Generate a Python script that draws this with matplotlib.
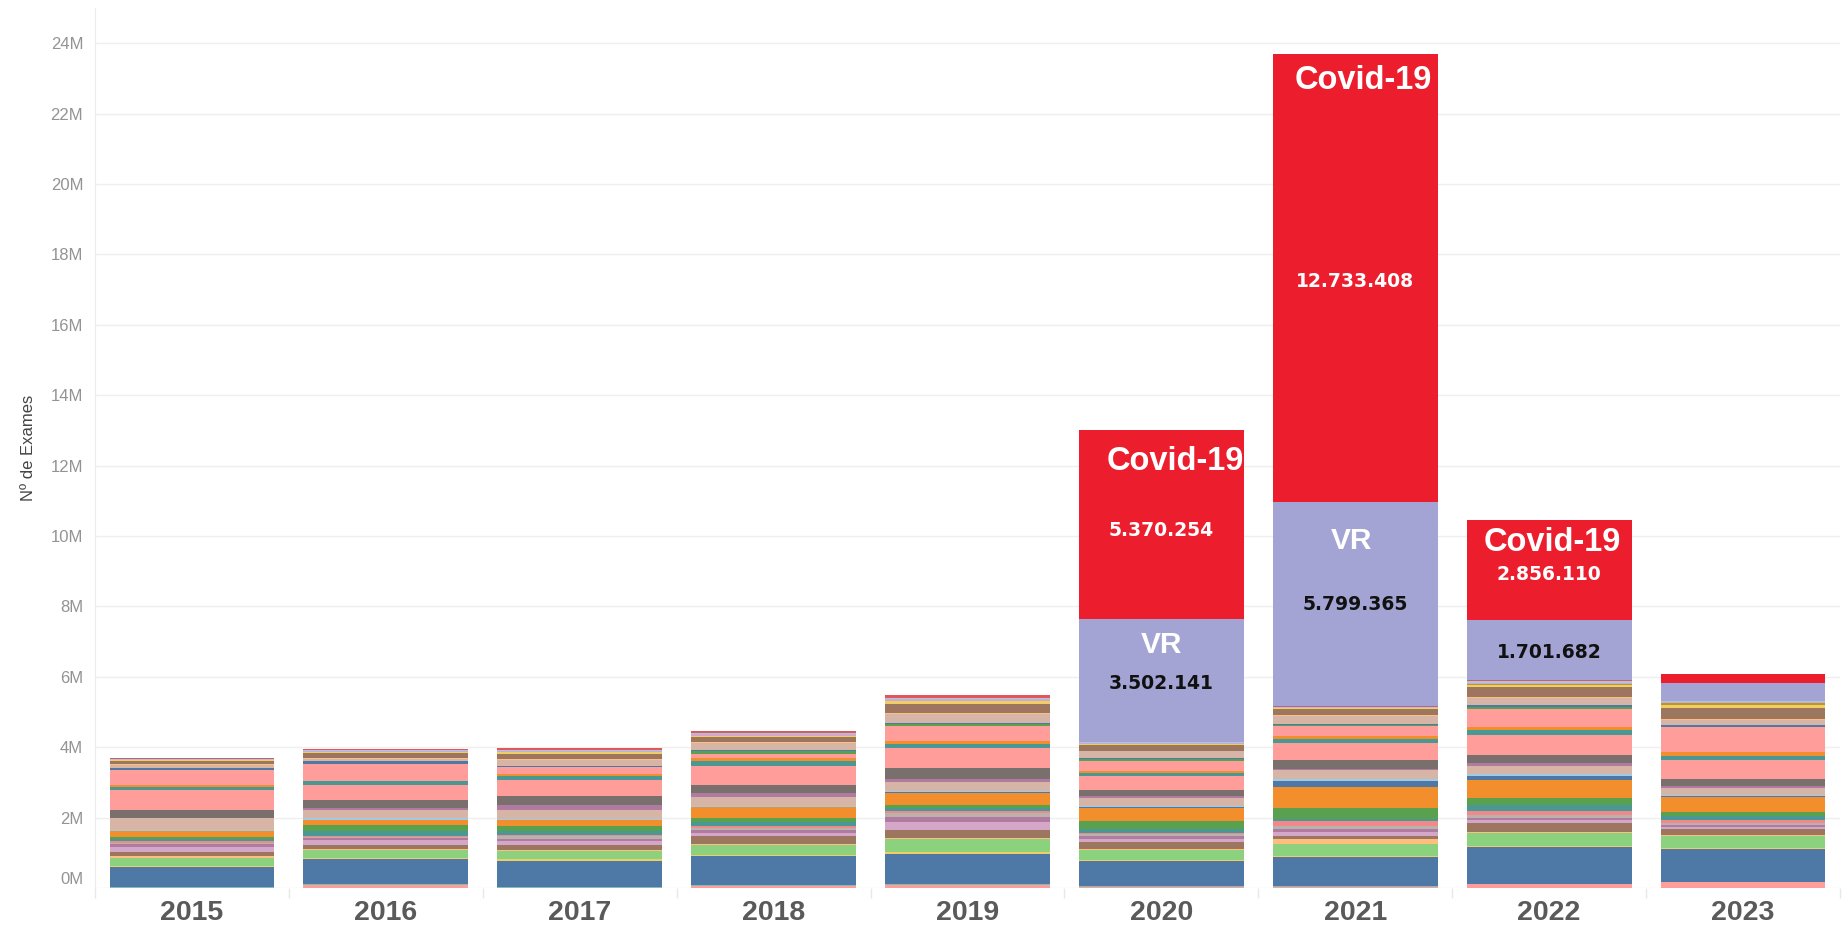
import numpy as np
import matplotlib.pyplot as plt
from matplotlib.transforms import ScaledTranslation

# Exames por ano (milhões), empilhados de baixo para cima
years = ["2015", "2016", "2017", "2018", "2019", "2020", "2021", "2022", "2023"]

rosa_base = [0.00, 0.085, 0.00, 0.05, 0.075, 0.04, 0.04, 0.11, 0.16]
verde_agua_base = [0.03, 0.03, 0.03, 0.04, 0.04, 0.01, 0.01, 0.01, 0.01]
azul = [0.555, 0.705, 0.745, 0.81, 0.865, 0.705, 0.82, 1.035, 0.94]
amarelo = [0.04, 0.045, 0.045, 0.05, 0.05, 0.05, 0.045, 0.03, 0.03]
verde_claro = [0.235, 0.21, 0.235, 0.28, 0.36, 0.28, 0.33, 0.37, 0.34]
laranja_claro = [0.04, 0.03, 0.02, 0.02, 0.02, 0.02, 0.14, 0.045, 0.02]
marrom = [0.13, 0.11, 0.16, 0.225, 0.225, 0.19, 0.08, 0.235, 0.17]
lilas = [0.14, 0.14, 0.10, 0.10, 0.245, 0.10, 0.12, 0.10, 0.07]
roxo = [0.08, 0.06, 0.07, 0.08, 0.15, 0.08, 0.10, 0.06, 0.05]
cinza_claro = [0.04, 0.03, 0.065, 0.06, 0.10, 0.05, 0.08, 0.075, 0.07]
rosa_escuro = [0.05, 0.03, 0.03, 0.05, 0.05, 0.05, 0.15, 0.12, 0.075]
verde_azulado = [0.06, 0.15, 0.12, 0.10, 0.09, 0.10, 0.05, 0.16, 0.11]
verde = [0.06, 0.16, 0.14, 0.12, 0.10, 0.23, 0.31, 0.215, 0.11]
laranja = [0.16, 0.16, 0.17, 0.31, 0.33, 0.36, 0.585, 0.51, 0.43]
azul_2 = [0.0, 0.0, 0.0, 0.0, 0.03, 0.03, 0.18, 0.11, 0.02]
azul_claro = [0.03, 0.04, 0.04, 0.04, 0.035, 0.035, 0.055, 0.04, 0.035]
bege = [0.33, 0.225, 0.26, 0.245, 0.245, 0.235, 0.255, 0.255, 0.20]
malva = [0.02, 0.07, 0.13, 0.11, 0.09, 0.05, 0.03, 0.065, 0.045]
cinza = [0.22, 0.225, 0.245, 0.235, 0.30, 0.17, 0.245, 0.245, 0.21]
rosa_1 = [0.555, 0.41, 0.46, 0.555, 0.565, 0.395, 0.49, 0.565, 0.545]
verde_agua = [0.09, 0.12, 0.12, 0.14, 0.14, 0.09, 0.13, 0.14, 0.12]
laranja_2 = [0.05, 0.0, 0.05, 0.06, 0.075, 0.05, 0.06, 0.065, 0.115]
rosa_2 = [0.43, 0.49, 0.19, 0.14, 0.415, 0.28, 0.30, 0.535, 0.705]
verde_2 = [0.0, 0.0, 0.0, 0.08, 0.06, 0.06, 0.03, 0.06, 0.0]
azul_3 = [0.05, 0.075, 0.05, 0.03, 0.035, 0.035, 0.025, 0.035, 0.045]
bege_2 = [0.10, 0.06, 0.16, 0.19, 0.255, 0.19, 0.225, 0.215, 0.16]
laranja_claro_2 = [0.04, 0.04, 0.02, 0.03, 0.03, 0.02, 0.02, 0.02, 0.02]
marrom_2 = [0.07, 0.13, 0.16, 0.14, 0.265, 0.17, 0.17, 0.28, 0.30]
amarelo_2 = [0.02, 0.02, 0.04, 0.03, 0.06, 0.03, 0.03, 0.06, 0.10]
oliva = [0.0, 0.0, 0.0, 0.0, 0.02, 0.0, 0.0, 0.02, 0.06]
lilas_2 = [0.02, 0.03, 0.04, 0.05, 0.05, 0.01, 0.02, 0.05, 0.03]
azul_claro_2 = [0.01, 0.03, 0.02, 0.04, 0.04, 0.02, 0.02, 0.04, 0.02]
vermelho = [0.05, 0.05, 0.05, 0.06, 0.065, 0.0, 0.025, 0.035, 0.0]
vr = [0, 0, 0, 0, 0, 3.502141, 5.799365, 1.701682, 0.50]
covid = [0, 0, 0, 0, 0, 5.370254, 12.733408, 2.856110, 0.265]

series = [
    (rosa_base, "#ff9d9a"), (verde_agua_base, "#86bcb6"), (azul, "#4e79a7"),
    (amarelo, "#f1ce63"), (verde_claro, "#8cd17d"), (laranja_claro, "#ffbe7d"),
    (marrom, "#9d7660"), (lilas, "#d4a6c8"), (roxo, "#b07aa1"),
    (cinza_claro, "#bab0ac"), (rosa_escuro, "#f08a8a"), (verde_azulado, "#499894"),
    (verde, "#59a14f"), (laranja, "#f28e2b"), (azul_2, "#4e79a7"),
    (azul_claro, "#a0cbe8"), (bege, "#d7b5a6"), (malva, "#b07aa1"),
    (cinza, "#79706e"), (rosa_1, "#ff9d9a"), (verde_agua, "#499894"),
    (laranja_2, "#f28e2b"), (rosa_2, "#ff9d9a"), (verde_2, "#59a14f"),
    (azul_3, "#4e79a7"), (bege_2, "#d7b5a6"), (laranja_claro_2, "#ffbe7d"),
    (marrom_2, "#9d7660"), (amarelo_2, "#f1ce63"), (oliva, "#b6992d"),
    (lilas_2, "#d4a6c8"), (azul_claro_2, "#a0cbe8"), (vermelho, "#e15759"),
    (vr, "#a3a4d3"), (covid, "#ec1e2d"),
]

fig = plt.figure(figsize=(18.43, 9.31), dpi=100)
ax = fig.add_axes([95 / 1843, 43 / 931, 1745 / 1843, 880 / 931])

x = np.arange(len(years))
bottom = np.zeros(len(years))
for vals, color in series:
    vals = np.array(vals, dtype=float)
    ax.bar(x, vals, width=0.85, bottom=bottom, color=color, linewidth=0)
    bottom += vals

ax.set_xlim(-0.5, len(years) - 0.5)
ax.set_ylim(0, 25.0)

yt = np.arange(0, 25, 2)
ax.set_yticks(yt)
ax.set_yticklabels([f"{v}M" for v in yt], fontfamily="Liberation Sans")
ax.yaxis.grid(True, color="#efefef", linewidth=1)
ax.set_axisbelow(True)
ax.tick_params(axis="y", length=0, pad=8.5, labelsize=12, labelcolor="#939393")
# Tableau lifts the bottom label above the baseline
lbl0 = ax.yaxis.get_major_ticks()[0].label1
lbl0.set_transform(lbl0.get_transform() + ScaledTranslation(0, 0.1, fig.dpi_scale_trans))

ax.set_xticks(x)
ax.set_xticklabels(years, fontfamily="Liberation Sans", fontweight="bold",
                   fontsize=20.5, color="#5a5a5a")
ax.tick_params(axis="x", length=0, pad=9)
ax.set_xticks(np.arange(-0.5, len(years), 1), minor=True)
ax.tick_params(axis="x", which="minor", length=7, color="#e8e8e8", width=1)

for side in ["top", "right", "bottom"]:
    ax.spines[side].set_visible(False)
ax.spines["left"].set_color("#ececec")

ax.set_ylabel("Nº de Exames", fontsize=12, color="#444444", fontfamily="Liberation Sans")
ax.yaxis.set_label_coords(-0.034, 0.5)

big = dict(fontfamily="Liberation Sans", fontweight="bold", color="white", ha="center", va="baseline")
num = dict(fontfamily="DejaVu Sans", fontweight="bold", fontsize=13.5, ha="center", va="baseline")

ax.text(5.07, 11.87, "Covid-19", fontsize=23.5, **big)
ax.text(5.0, 9.99, "5.370.254", color="white", **num)
ax.text(5.0, 6.67, "VR", fontsize=21.5, **big)
ax.text(5.0, 5.64, "3.502.141", color="#111111", **num)

ax.text(6.04, 22.69, "Covid-19", fontsize=23.5, **big)
ax.text(6.0, 17.07, "12.733.408", color="white", **num)
ax.text(5.98, 9.63, "VR", fontsize=21.5, **big)
ax.text(6.0, 7.89, "5.799.365", color="#111111", **num)

ax.text(7.015, 9.57, "Covid-19", fontsize=23.5, **big)
ax.text(7.0, 8.74, "2.856.110", color="white", **num)
ax.text(7.0, 6.53, "1.701.682", color="#111111", **num)

plt.savefig("out.png", dpi=100)
